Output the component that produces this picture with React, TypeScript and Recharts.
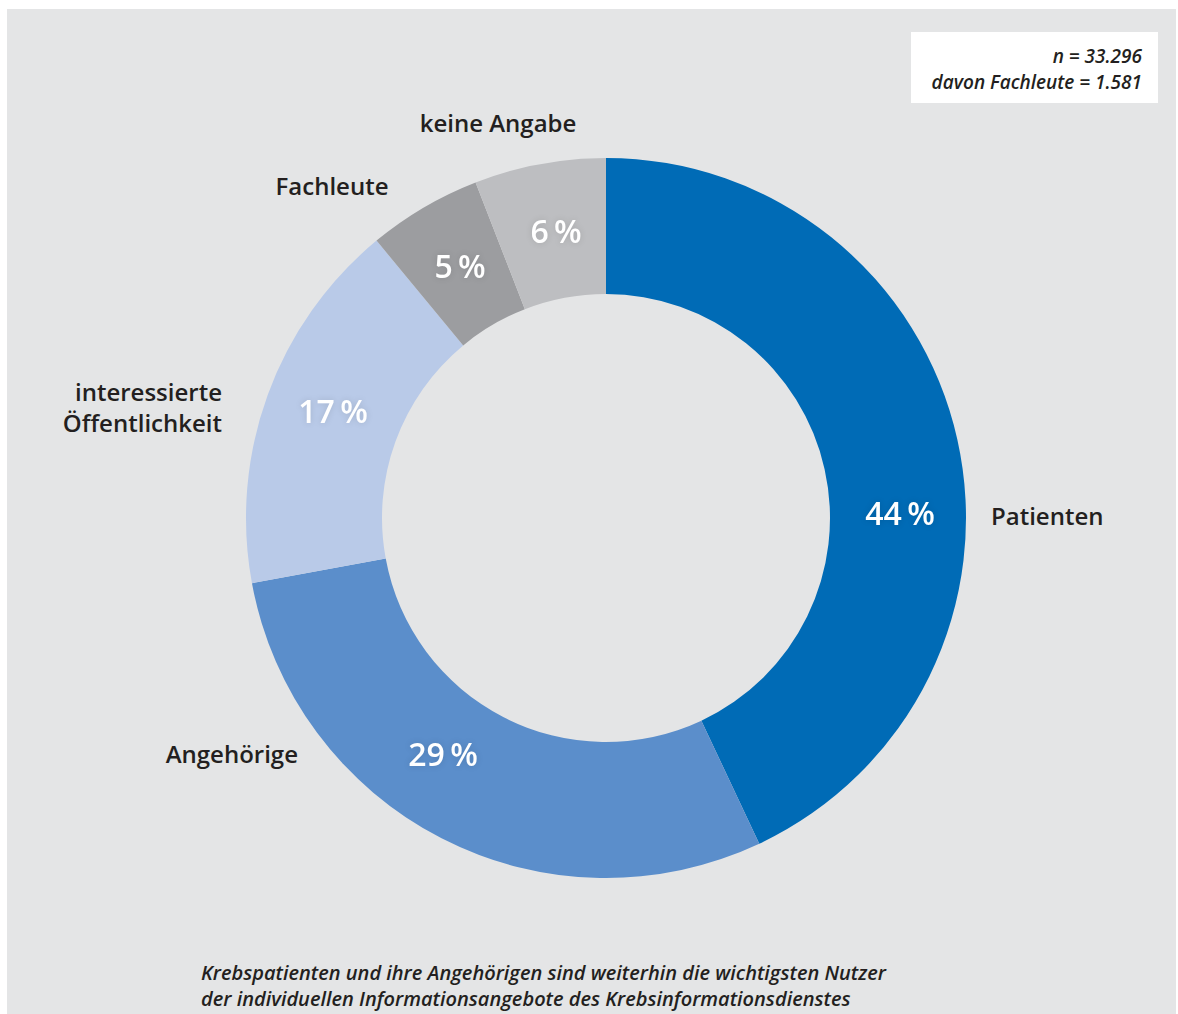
import React from 'react';
import { PieChart, Pie, Cell } from 'recharts';

const categories = ['Patienten', 'Angehörige', 'interessierte|Öffentlichkeit', 'Fachleute', 'keine Angabe'];
const shares = [43.0, 29.1, 16.9, 5.1, 5.9];
const pctLabels = ['44\u2009%', '29\u2009%', '17\u2009%', '5\u2009%', '6\u2009%'];
const colors = ['#006bb6', '#5b8ecb', '#b9cae8', '#9c9da0', '#bdbec1'];
const noteLines = ['n = 33.296', 'davon Fachleute = 1.581'];
const captionLines = [
  'Krebspatienten und ihre Angehörigen sind weiterhin die wichtigsten Nutzer',
  'der individuellen Informationsangebote des Krebsinformationsdienstes',
];

// label placement relative to the pie centre (layout, not data)
const pctOffsets: [number, number][] = [[294, -6], [-163, 235], [-273, -108], [-146, -253], [-50, -288]];
const nameOffsets: { dx: number; dy: number; anchor: 'start' | 'middle' | 'end' }[] = [
  { dx: 385, dy: -3, anchor: 'start' },
  { dx: -308, dy: 235, anchor: 'end' },
  { dx: -384, dy: -127, anchor: 'end' },
  { dx: -274, dy: -333, anchor: 'middle' },
  { dx: -108, dy: -396, anchor: 'middle' },
];

const data = categories.map((name, i) => ({ name, value: shares[i], pct: pctLabels[i] }));

const FONT = '"Open Sans", "DejaVu Sans", sans-serif';

const renderLabel = (props: any) => {
  const { cx, cy, index } = props;
  const [px, py] = pctOffsets[index];
  const n = nameOffsets[index];
  const lines = categories[index].split('|');
  return (
    <g key={`lbl-${index}`}>
      <text
        x={cx + px}
        y={cy + py}
        textAnchor="middle"
        dominantBaseline="central"
        fill="#ffffff"
        fontFamily={FONT}
        fontWeight={600}
        fontSize={32}
        style={{ filter: 'drop-shadow(0px 0px 3px rgba(0,0,0,0.12))' }}
      >
        {pctLabels[index]}
      </text>
      <text
        x={cx + n.dx}
        y={cy + n.dy}
        textAnchor={n.anchor}
        dominantBaseline="central"
        fill="#231f20"
        fontFamily={FONT}
        fontWeight={600}
        fontSize={24}
      >
        {lines.map((l, j) => (
          <tspan key={j} x={cx + n.dx} dy={j === 0 ? 0 : 31}>
            {l}
          </tspan>
        ))}
      </text>
    </g>
  );
};

export default function App() {
  return (
    <div
      style={{
        position: 'absolute',
        left: 7,
        top: 9,
        width: 1169,
        height: 1005,
        background: '#e4e5e6',
        fontFamily: FONT,
        overflow: 'hidden',
      }}
    >
      <PieChart width={1169} height={1005} margin={{ top: 0, right: 0, bottom: 0, left: 0 }}>
        <Pie
          data={data}
          dataKey="value"
          nameKey="name"
          cx={599}
          cy={509}
          innerRadius={224}
          outerRadius={360}
          startAngle={90}
          endAngle={-270}
          stroke="none"
          label={renderLabel}
          labelLine={false}
          isAnimationActive={false}
        >
          {data.map((d, i) => (
            <Cell key={d.name} fill={colors[i]} />
          ))}
        </Pie>
      </PieChart>
      <div
        style={{
          position: 'absolute',
          left: 904,
          top: 23,
          width: 247,
          height: 71,
          background: '#ffffff',
          boxSizing: 'border-box',
          paddingRight: 16,
          paddingTop: 11,
          textAlign: 'right',
          fontStyle: 'italic',
          fontWeight: 600,
          fontSize: 19,
          lineHeight: '26px',
          color: '#231f20',
        }}
      >
        {noteLines.map((l) => (
          <div key={l}>{l}</div>
        ))}
      </div>
      <div
        style={{
          position: 'absolute',
          left: 194,
          top: 951,
          fontStyle: 'italic',
          fontWeight: 600,
          fontSize: 20,
          lineHeight: '26px',
          color: '#231f20',
          whiteSpace: 'nowrap',
        }}
      >
        {captionLines.map((l) => (
          <div key={l}>{l}</div>
        ))}
      </div>
    </div>
  );
}
